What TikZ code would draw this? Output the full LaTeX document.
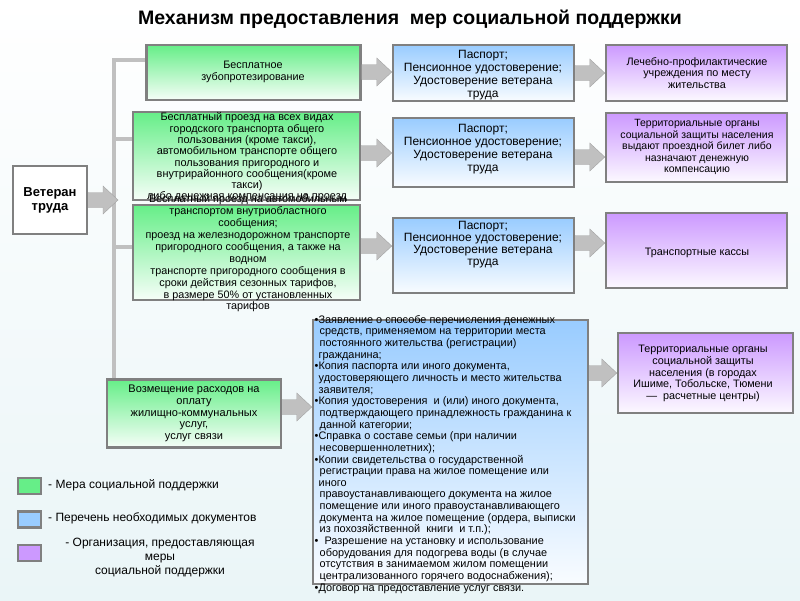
\documentclass[tikz,border=0pt]{standalone}
\usepackage{fontspec}
\setmainfont{Liberation Sans}
\usetikzlibrary{calc}

\definecolor{mgreen}{RGB}{102,238,136}
\definecolor{mblue}{RGB}{153,204,255}
\definecolor{mviolet}{RGB}{204,153,255}
\definecolor{boxgray}{RGB}{128,128,128}
\definecolor{arrgray}{RGB}{192,192,192}
\definecolor{bgblue}{RGB}{234,245,247}

\newcommand{\fs}[2]{\fontsize{#1}{#2}\selectfont}
\newcommand{\bigarrow}[3]{%
  \path[blockarrow] let \p1=(#1), \p2=(#2), \p3=(0,#3) in
    (\x1,\y3+7.5pt) -- (\x2-15pt,\y3+7.5pt) -- (\x2-15pt,\y3+14pt) -- (\x2,\y3)
    -- (\x2-15pt,\y3-14pt) -- (\x2-15pt,\y3-7.5pt) -- (\x1,\y3-7.5pt) -- cycle;}

\tikzset{
  box/.style={draw=boxgray, line width=2.5pt, inner sep=0pt},
  greenbox/.style={box, top color=mgreen, bottom color=mgreen!6},
  bluebox/.style={box, top color=mblue, bottom color=mblue!6},
  violetbox/.style={box, top color=mviolet, bottom color=mviolet!6},
  txt/.style={align=center, inner sep=0pt, font=\fs{10.9}{11.5}},
  trunk/.style={draw=arrgray, line width=4pt},
  blockarrow/.style={fill=arrgray, draw=arrgray!85!black, line width=0.4pt},
  legsq/.style={draw=boxgray, line width=2.5pt, minimum width=23, minimum height=16, inner sep=0pt}
}

\begin{document}
\begin{tikzpicture}[x=1pt,y=-1pt]
\fill[top color=white, bottom color=bgblue] (0,0) rectangle (800,600);
\useasboundingbox (0,0) rectangle (800,600);

\node[font=\bfseries\fs{19.5}{22}] (title) at (410,19) {Механизм предоставления\ \ мер социальной поддержки};

% trunk
\coordinate (hub) at (118,200);
\coordinate (b1) at (114,60);
\coordinate (b2) at (114,139);
\coordinate (b3) at (114,247);

\node[box, fill=white, minimum width=74, minimum height=68] (vet) at (50,200) {};
\node[greenbox, minimum width=214, minimum height=55] (zub) at (253.5,72.5) {};
\node[greenbox, minimum width=227, minimum height=88] (proezd) at (246.5,156) {};
\node[greenbox, minimum width=227, minimum height=95] (prigorod) at (246.5,252.5) {};
\node[greenbox, minimum width=174, minimum height=68] (zhku) at (194,413.5) {};

\draw[trunk] (zhku.north -| b1) -- (b1) -- (b1 -| zub.west);
\draw[trunk] (b2) -- (b2 -| proezd.west);
\draw[trunk] (b3) -- (b3 -| prigorod.west);

\node[bluebox, minimum width=181, minimum height=56] (doc1) at (483.5,73) {};
\node[bluebox, minimum width=181, minimum height=69] (doc2) at (483.5,152.5) {};
\node[bluebox, minimum width=181, minimum height=75] (doc3) at (483.5,255.5) {};
\node[bluebox, minimum width=275, minimum height=264] (doc4) at (450.5,452) {};

\node[violetbox, minimum width=181, minimum height=56] (org1) at (696.5,73) {};
\node[violetbox, minimum width=181, minimum height=69] (org2) at (696.5,147.5) {};
\node[violetbox, minimum width=181, minimum height=75] (org3) at (696.5,250.5) {};
\node[violetbox, minimum width=175, minimum height=80] (org4) at (705.5,373) {};

% arrows
\bigarrow{vet.east}{hub}{200}
\bigarrow{zub.east}{doc1.west}{72}
\bigarrow{proezd.east}{doc2.west}{153}
\bigarrow{prigorod.east}{doc3.west}{246}
\bigarrow{zhku.east}{doc4.west}{407}
\bigarrow{doc1.east}{org1.west}{73}
\bigarrow{doc2.east}{org2.west}{157}
\bigarrow{doc3.east}{org3.west}{243}
\bigarrow{doc4.east}{org4.west}{373}

% texts
\node[txt, font=\bfseries\fs{13}{14}] (vet-t) at (vet) {Ветеран\\труда};
\node[txt, font=\fs{10.8}{12}] (zub-t) at (253,72) {Бесплатное\\зубопротезирование};
\node[txt, font=\fs{10.9}{11.3}] (proezd-t) at (247,157.5) {Бесплатный проезд на всех видах\\городского транспорта общего\\пользования (кроме такси),\\автомобильном транспорте общего\\пользования пригородного и\\внутрирайонного сообщения(кроме\\такси)\\либо денежная компенсация на проезд};
\node[txt, font=\fs{10.8}{11.9}] (prigorod-t) at (248,253.5) {Бесплатный проезд на автомобильным\\транспортом внутриобластного\\сообщения;\\проезд на железнодорожном транспорте\\пригородного сообщения, а также на\\водном\\транспорте пригородного сообщения в\\сроки действия сезонных тарифов,\\в размере 50\% от установленных\\тарифов};
\node[txt, font=\fs{11}{11.7}] (zhku-t) at (194,413.5) {Возмещение расходов на\\оплату\\жилищно-коммунальных\\услуг,\\услуг связи};

\node[txt, font=\fs{12}{13}] (doc1-t) at (483,75) {Паспорт;\\Пенсионное удостоверение;\\Удостоверение ветерана\\труда};
\node[txt, font=\fs{12}{13}] (doc2-t) at (483,149) {Паспорт;\\Пенсионное удостоверение;\\Удостоверение ветерана\\труда};
\node[txt, font=\fs{12}{12}] (doc3-t) at (483,245) {Паспорт;\\Пенсионное удостоверение;\\Удостоверение ветерана\\труда};
\node[txt, align=left, anchor=north west, font=\fs{10.9}{11.65}] (doc4-t) at (314.5,315) {%
•Заявление о способе перечисления денежных\\
\hspace*{5pt}средств, применяемом на территории места\\
\hspace*{5pt}постоянного жительства (регистрации)\\
\hspace*{4pt}гражданина;\\
•Копия паспорта или иного документа,\\
\hspace*{4pt}удостоверяющего личность и место жительства\\
\hspace*{4pt}заявителя;\\
•Копия удостоверения\ \ и (или) иного документа,\\
\hspace*{5pt}подтверждающего принадлежность гражданина к\\
\hspace*{5pt}данной категории;\\
•Справка о составе семьи (при наличии\\
\hspace*{5pt}несовершеннолетних);\\
•Копии свидетельства о государственной\\
\hspace*{5pt}регистрации права на жилое помещение или\\
\hspace*{4pt}иного\\
\hspace*{5pt}правоустанавливающего документа на жилое\\
\hspace*{5pt}помещение или иного правоустанавливающего\\
\hspace*{5pt}документа на жилое помещение (ордера, выписки\\
\hspace*{5pt}из похозяйственной\ \ книги\ \ и т.п.);\\
•\ \ Разрешение на установку и использование\\
\hspace*{5pt}оборудования для подогрева воды (в случае\\
\hspace*{5pt}отсутствия в занимаемом жилом помещении\\
\hspace*{5pt}централизованного горячего водоснабжения);\\
•Договор на предоставление услуг связи.};

\node[txt, font=\fs{10.8}{11.5}] (org1-t) at (697,73) {Лечебно-профилактические\\учреждения по месту\\жительства};
\node[txt, font=\fs{10.5}{11.5}] (org2-t) at (697,147) {Территориальные органы\\социальной защиты населения\\выдают проездной билет либо\\назначают денежную\\компенсацию};
\node[txt, font=\fs{10.8}{11.5}] (org3-t) at (697,253) {Транспортные кассы};
\node[txt, font=\fs{10.8}{11.8}] (org4-t) at (703,373.5) {Территориальные органы\\социальной защиты\\населения (в городах\\Ишиме, Тобольске, Тюмени\\—\ \ расчетные центры)};

% legend
\node[legsq, fill=mgreen] (leg1) at (29.5,486) {};
\node[legsq, fill=mblue] (leg2) at (29.5,519.5) {};
\node[legsq, fill=mviolet] (leg3) at (29.5,553) {};
\node[txt, anchor=west, font=\fs{12}{13}] (leg1-t) at (48,485) {- Мера социальной поддержки};
\node[txt, anchor=west, font=\fs{12}{13}] (leg2-t) at (48,518) {- Перечень необходимых документов};
\node[txt, font=\fs{12}{14}] (leg3-t) at (160,558) {- Организация, предоставляющая\\меры\\социальной поддержки};
\end{tikzpicture}
\end{document}
